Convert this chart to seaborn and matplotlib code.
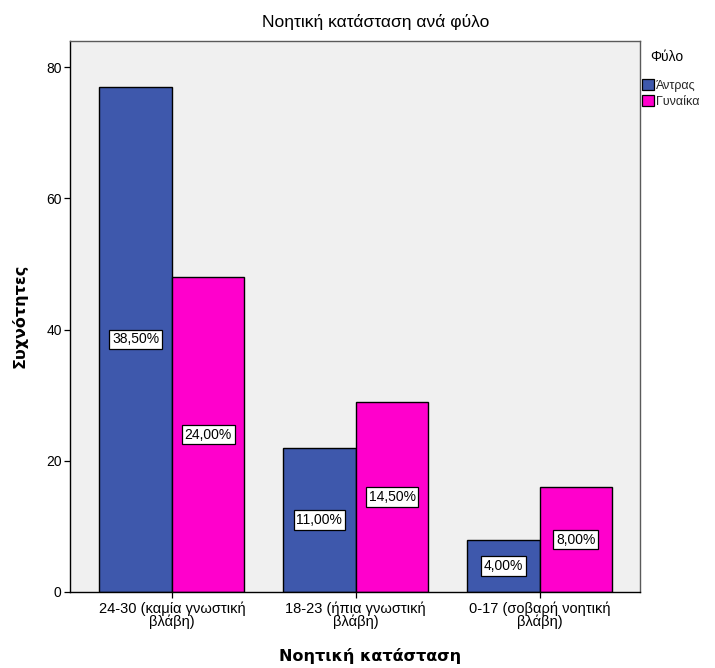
import matplotlib
matplotlib.use("Agg")
import matplotlib.pyplot as plt
from matplotlib.patches import Patch
import seaborn as sns
import pandas as pd

# Counts of cognitive status (MMSE bands) by gender
categories = ["24-30 (καμία γνωστική\nβλάβη)", "18-23 (ήπια γνωστική\nβλάβη)", "0-17 (σοβαρή νοητική\nβλάβη)"]
genders = ["Άντρας", "Γυναίκα"]
men_counts = [77, 22, 8]
women_counts = [48, 29, 16]
men_pct = ["38,50%", "11,00%", "4,00%"]
women_pct = ["24,00%", "14,50%", "8,00%"]
colors = ["#3E58AC", "#FF00CC"]

df = pd.DataFrame({
    "Νοητική κατάσταση": categories * 2,
    "Φύλο": [genders[0]] * 3 + [genders[1]] * 3,
    "Συχνότητες": men_counts + women_counts,
})

sns.set_theme(style="white")
plt.rcParams["font.family"] = ["Liberation Sans", "DejaVu Sans"]

fig = plt.figure(figsize=(7.15, 6.68), dpi=100)
ax = fig.add_axes([0.0979, 0.1138, 0.7972, 0.8248])
ax.set_facecolor("#F0F0F0")

sns.barplot(data=df, x="Νοητική κατάσταση", y="Συχνότητες", hue="Φύλο",
            hue_order=genders, palette=colors, width=0.79, saturation=1,
            edgecolor="black", linewidth=1, ax=ax, legend=False)

# percentage labels at the vertical middle of each bar
for container, labels in zip(ax.containers, [men_pct, women_pct]):
    for rect, lab in zip(container, labels):
        x = rect.get_x() + rect.get_width() / 2
        y = rect.get_height() / 2
        ax.text(x, y, lab, ha="center", va="center", fontsize=10, color="black",
                bbox=dict(boxstyle="square,pad=0.2", fc="white", ec="black", lw=0.9))

ax.set_ylim(0, 84)
ax.set_xlim(-0.554, 2.546)
ax.set_yticks([0, 20, 40, 60, 80])
ax.tick_params(axis="both", which="both", direction="out", length=4, width=0.9,
               colors="black", labelsize=10, bottom=True, left=True, pad=2)
ax.tick_params(axis="x", labelsize=10.5, pad=3)
for lbl in ax.get_xticklabels():
    lbl.set_linespacing(0.85)

for side in ["top", "right", "left", "bottom"]:
    ax.spines[side].set_color("#5a5a5a")
    ax.spines[side].set_linewidth(1)
ax.spines["bottom"].set_color("black")
ax.spines["left"].set_color("black")

ax.set_xlabel("")
ax.set_ylabel("")
fig.text(376 / 715, 1 - 22 / 668, "Νοητική κατάσταση ανά φύλο", ha="center", va="center",
         fontsize=12.5, color="black")
fig.text(370 / 715, 1 - 656 / 668, "Νοητική κατάσταση", ha="center", va="center",
         fontsize=11.5, fontweight="bold", color="black",
         family=["DejaVu Sans"])
fig.text(20 / 715, 1 - 316 / 668, "Συχνότητες", ha="center", va="center", rotation=90,
         fontsize=11.5, fontweight="bold", color="black", family=["DejaVu Sans"])

# legend to the right of the plot area
fig.text(650 / 715, 1 - 57 / 668, "Φύλο", ha="left", va="center", fontsize=10, color="black")
handles = [Patch(facecolor=c, edgecolor="black", linewidth=0.9) for c in colors]
fig.legend(handles, genders, loc="upper left", bbox_to_anchor=(642 / 715, 1 - 79 / 668),
           frameon=False, fontsize=9, handlelength=0.95, handleheight=0.95,
           handletextpad=0.2, labelspacing=0.28, borderaxespad=0, borderpad=0)

fig.savefig("out.png", dpi=100)
